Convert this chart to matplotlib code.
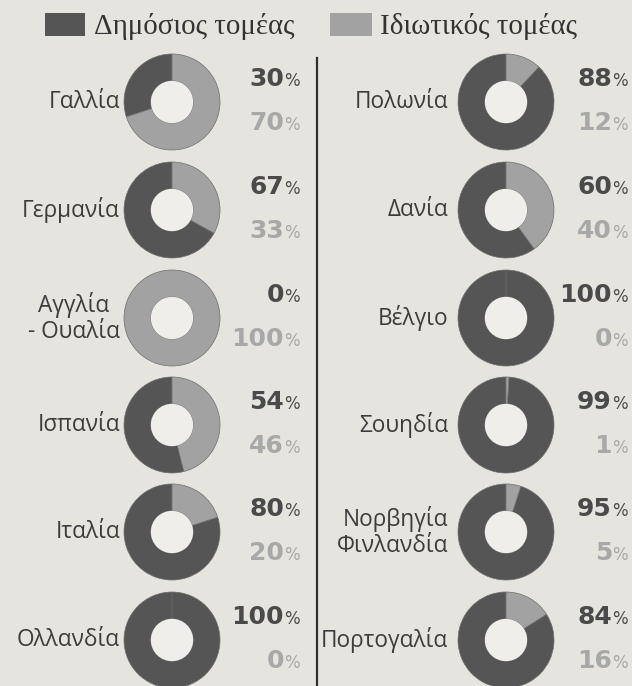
import matplotlib
matplotlib.use('Agg')
import matplotlib.pyplot as plt
from matplotlib.patches import Rectangle, Circle

# data
left_countries = ['Γαλλία', 'Γερμανία', 'Αγγλία\n- Ουαλία', 'Ισπανία', 'Ιταλία', 'Ολλανδία']
left_public = [30, 67, 0, 54, 80, 100]
left_private = [70, 33, 100, 46, 20, 0]

right_countries = ['Πολωνία', 'Δανία', 'Βέλγιο', 'Σουηδία', 'Νορβηγία\nΦινλανδία', 'Πορτογαλία']
right_public = [88, 60, 100, 99, 95, 84]
right_private = [12, 40, 0, 1, 5, 16]

legend_labels = ['Δημόσιος τομέας', 'Ιδιωτικός τομέας']

# colours
bg = '#e6e4df'
hole = '#efeeea'
dark = '#555555'
light = '#a2a2a2'
txt_dark = '#4a4a4a'
txt_light = '#a8a8a8'

W, H = 632, 686
fig = plt.figure(figsize=(W / 100, H / 100), dpi=100, facecolor=bg)
ax = fig.add_axes([0, 0, 1, 1])
ax.set_facecolor(bg)

row_y = [102, 210, 318, 425, 532, 640]   # pixel rows, from top
R = 48

def column(countries, pub, priv, cx, label_x, pct_x):
    for i, name in enumerate(countries):
        cy = H - row_y[i]
        ax.pie([pub[i], priv[i]], colors=[dark, light], startangle=90,
               counterclock=True, center=(cx, cy), radius=R,
               wedgeprops=dict(width=R * 0.56, edgecolor='#6e6e6e', linewidth=0.5))
        ax.add_patch(Circle((cx, cy), R * 0.44, color=hole, lw=0, zorder=3))
        ax.text(label_x, cy, name, ha='right', va='center', fontsize=16.3,
                family='Open Sans', color='#3c3c3c',
                multialignment='center' if '-' in name else 'right',
                linespacing=1.1)
        # top: public, bottom: private
        for val, off, col in [(pub[i], 16, txt_dark), (priv[i], -28, txt_light)]:
            ax.text(pct_x, cy + off, str(val), ha='right', va='baseline',
                    fontsize=18, fontweight='bold', color=col, family='DejaVu Sans')
            ax.text(pct_x, cy + off, '%', ha='left', va='baseline',
                    fontsize=12, color=col, family='DejaVu Sans')

column(left_countries, left_public, left_private, 172, 120, 284)
column(right_countries, right_public, right_private, 506, 448, 612)

# divider
ax.plot([317, 317], [0, H - 58], color='#2e2e2e', lw=1.6)

# legend
ax.add_patch(Rectangle((45, H - 36), 40, 23, color=dark, lw=0))
ax.text(94, H - 26, legend_labels[0], ha='left', va='center', fontsize=20.8,
        family='Liberation Serif', color='#333333')
ax.add_patch(Rectangle((330, H - 36), 42, 23, color=light, lw=0))
ax.text(380, H - 26, legend_labels[1], ha='left', va='center', fontsize=20.8,
        family='Liberation Serif', color='#333333')

ax.set_xlim(0, W)
ax.set_ylim(0, H)
ax.set_aspect('auto')
ax.axis('off')

fig.savefig('out.png', dpi=100, facecolor=bg)
